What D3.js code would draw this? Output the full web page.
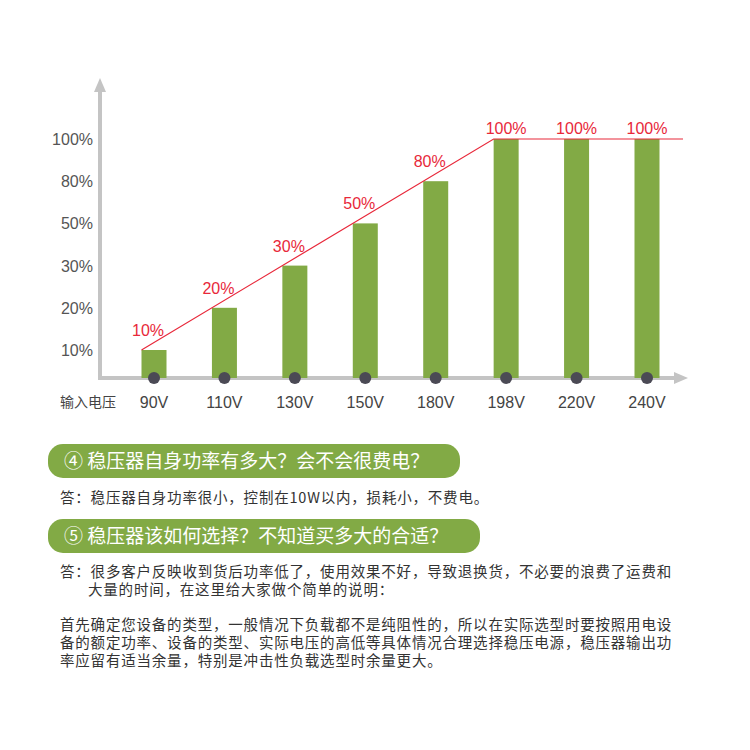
<!DOCTYPE html><html><head><meta charset="utf-8"><script src="https://cdn.jsdelivr.net/npm/d3@7"></script>
<style>body{margin:0;background:#fff}</style></head><body><svg id="c" width="750" height="750"></svg>
<script>
const categories=["90V","110V","130V","150V","180V","198V","220V","240V"];
const values=["10%","20%","30%","50%","80%","100%","100%","100%"];
const levels=["10%","20%","30%","50%","80%","100%"];
const q1="④ 稳压器自身功率有多大？会不会很费电？";
const a1="答：稳压器自身功率很小，控制在10W以内，损耗小，不费电。";
const q2="⑤ 稳压器该如何选择？不知道买多大的合适？";
const a2=["答：很多客户反映收到货后功率低了，使用效果不好，导致退换货，不必要的浪费了运费和","大量的时间，在这里给大家做个简单的说明："];
const p=["首先确定您设备的类型，一般情况下负载都不是纯阻性的，所以在实际选型时要按照用电设","备的额定功率、设备的类型、实际电压的高低等具体情况合理选择稳压电源，稳压器输出功","率应留有适当余量，特别是冲击性负载选型时余量更大。"];
const svg=d3.select("#c"),F="'Noto Sans CJK SC','Noto Sans',sans-serif",N="'Liberation Sans','DejaVu Sans',sans-serif";
const x=d3.scalePoint().domain(categories).range([154,647]);
const y=d3.scalePoint().domain(levels).range([350,139]);
const base=378,bw=25;
svg.append("line").attr("x1",100).attr("y1",base).attr("x2",100).attr("y2",88).attr("stroke","#c4c4c4").attr("stroke-width",4);
svg.append("path").attr("d","M94,92L100,78L106,92Z").attr("fill","#c4c4c4");
svg.append("line").attr("x1",98).attr("y1",base).attr("x2",676).attr("y2",base).attr("stroke","#c4c4c4").attr("stroke-width",4);
svg.append("path").attr("d","M674,372L688,378L674,384Z").attr("fill","#c4c4c4");
svg.selectAll(".yl").data(levels).join("text").attr("x",93).attr("y",d=>y(d)+6).attr("text-anchor","end").attr("font-family",N).attr("font-size",16).attr("fill","#555").text(d=>d);
svg.selectAll(".b").data(values).join("rect").attr("x",(d,i)=>x(categories[i])-bw/2).attr("y",d=>y(d)).attr("width",bw).attr("height",d=>base-y(d)).attr("fill","#82aa45");
svg.selectAll(".dot").data(categories).join("circle").attr("cx",d=>x(d)).attr("cy",base).attr("r",6).attr("fill","#4b4a55");
svg.selectAll(".xl").data(categories).join("text").attr("x",d=>x(d)).attr("y",408).attr("text-anchor","middle").attr("font-family",N).attr("font-size",16).attr("fill","#444").text(d=>d);
svg.append("text").attr("x",60).attr("y",407).attr("font-family",F).attr("font-size",14).attr("fill","#444").text("输入电压");
const i6=values.indexOf("100%");
svg.append("path").attr("d",`M${x(categories[0])-bw/2},${y(values[0])}L${x(categories[i6])-bw/2},${y(values[i6])}L683,${y(values[i6])}`).attr("fill","none").attr("stroke","#e8283a").attr("stroke-width",1.2);
svg.selectAll(".vl").data(values).join("text").attr("x",(d,i)=>x(categories[i])-(i<i6?6:0)).attr("y",d=>y(d)-(d==="100%"?5:14)).attr("text-anchor","middle").attr("font-family",N).attr("font-size",16).attr("fill","#e8283a").text(d=>d);
function box(y0,w,t){svg.append("rect").attr("x",48).attr("y",y0).attr("width",w).attr("height",34).attr("rx",15).attr("fill","#82aa45");
svg.append("text").attr("x",64).attr("y",y0+24).attr("font-family",F).attr("font-size",19).attr("fill","#fff").text(t);}
box(444,412,q1);box(519,432,q2);
function txt(xx,yy,t){svg.append("text").attr("x",xx).attr("y",yy).attr("font-family",F).attr("font-size",14.5).attr("letter-spacing",0.8).attr("fill","#333").text(t);}
txt(60,503,a1);txt(60,577,a2[0]);txt(88,595,a2[1]);
p.forEach((t,i)=>txt(60,630+i*18,t));
</script></body></html>
